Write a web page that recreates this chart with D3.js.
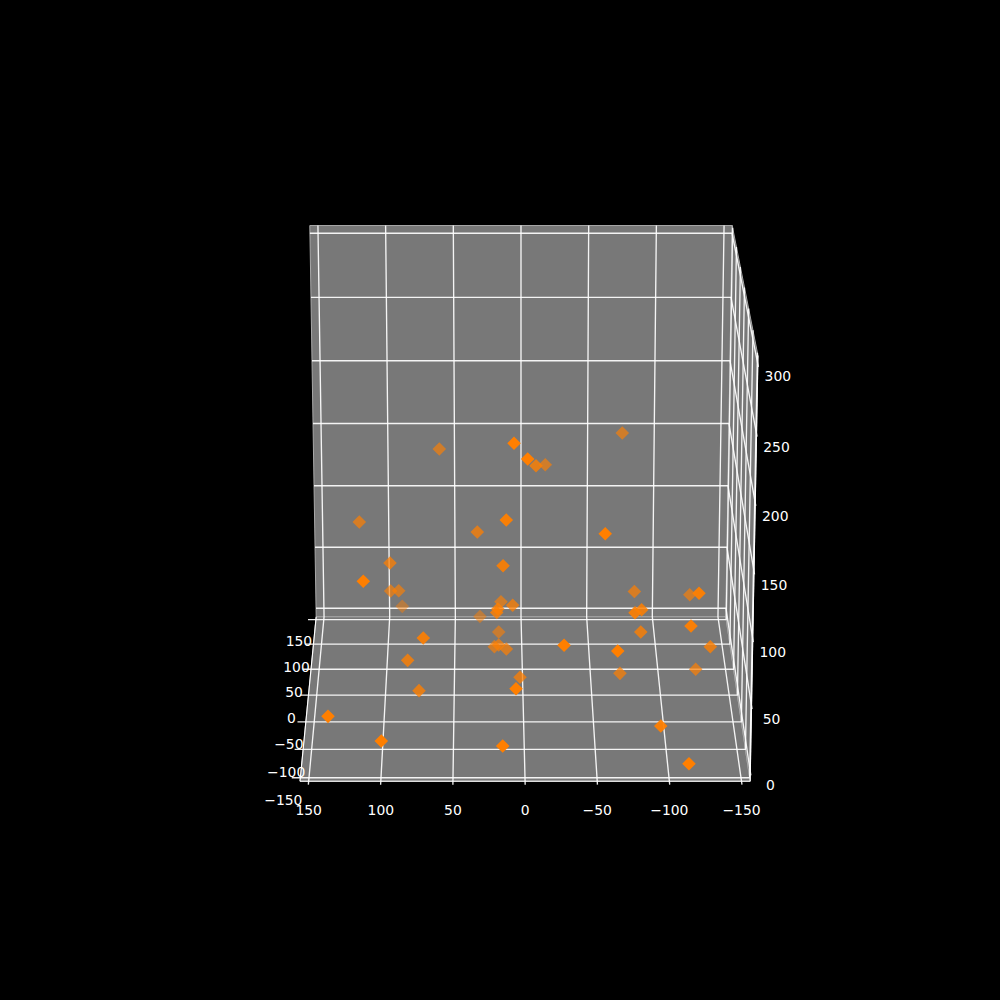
<!DOCTYPE html>
<html>
<head>
<meta charset="utf-8">
<script src="https://cdn.jsdelivr.net/npm/d3@7"></script>
<style>
  html, body { margin: 0; padding: 0; background: #000; }
  text { font-family: "DejaVu Sans", sans-serif; font-size: 13.9px; fill: #fff; }
</style>
</head>
<body>
<div id="chart"></div>
<script>
// tick values for the three axes
const xTicks = [150, 100, 50, 0, -50, -100, -150];
const yTicks = [-150, -100, -50, 0, 50, 100, 150];
const zTicks = [0, 50, 100, 150, 200, 250, 300];

// scatter values
const pointsX = [60.2, 7.2, -2.3, -9.1, -16.6, -72.3, 118.2, 32.8, 12.4, -56.1, 95.8, 14.6, 111.8, 96.5, 90.6, 89.8, 15.7, 7.4, 18.2, 19.0, 31.2, 17.3, 71.3, 83.3, 75.3, 137.7, 100.3, 15.3, 20.6, 17.5, 11.9, 2.1, 5.9, -27.6, -65.4, -71.1, -97.0, -114.0, -126.7, -134.8, -117.5, -84.6, -78.8, -84.3, -122.7, -122.8, -81.3];
const pointsY = [46, -110, -100, -17, 46, 46, 25, 4, -79, -100, 4, -58, -110, 46, 46, 129, 46, 4, -17, -17, 108, 67, -58, -17, -17, -110, -120, -120, 46, 25, 25, 4, -110, -110, -100, 20, -79, -145, 25, -17, -79, -17, -58, -37, 46, -79, 25];
const pointsZ = [168.2, 227.1, 212.1, 177.6, 156.0, 180.6, 119.1, 119.1, 159.1, 156.6, 95.1, 116.7, 124.9, 57.0, 57.2, 12.2, 48.5, 62.1, 67.5, 64.8, 12.2, 16.0, 61.3, 27.4, 3.6, 22.6, 8.0, 4.2, 12.7, 22.5, 19.3, 5.5, 43.7, 76.7, 68.3, 2.0, 2.0, 1.5, 3.2, 38.1, 78.9, 49.6, 80.8, 74.8, 54.0, 103.8, 64.7];

const xLim = [156, -156];
const yLim = [-156, 156];
const zLim = [-7, 306];
const tickLen = 6;

const width = 1000;
const height = 1000;

// perspective camera, fitted to the box corners
const xNum = d3.scaleLinear().domain([0, 100]).range([0, -144]);
const yNumX = d3.scaleLinear().domain([0, 100]).range([0, 15.16]);
const zNumX = d3.scaleLinear().domain([0, 100]).range([0, -5.5]);
const yNumY = d3.scaleLinear().domain([0, 100]).range([0, -33.1]);
const zNumY = d3.scaleLinear().domain([0, 100]).range([0, -139.47]);
const yW = d3.scaleLinear().domain([0, 100]).range([0, 0.0316]);
const zW = d3.scaleLinear().domain([0, 100]).range([0, -0.01055]);

function project(x, y, z) {
  const w = 1.04666 + yW(y) + zW(z);
  return [
    (xNum(x) + yNumX(y) + zNumX(z) + 547.35) / w,
    (yNumY(y) + zNumY(z) + 718.3) / w
  ];
}

const alphaScale = d3.scaleLinear().domain([-100, 150]).range([1, 0.4]).clamp(true);

const svg = d3.select("#chart").append("svg")
  .attr("width", width)
  .attr("height", height)
  .style("display", "block");

svg.append("rect").attr("width", width).attr("height", height).attr("fill", "#000");

const line = d3.line();

function corners(list) {
  return line(list.map(c => project(c[0], c[1], c[2]))) + "Z";
}

// panes: back wall, floor, right wall
const panes = [
  [[xLim[0], yLim[1], zLim[0]], [xLim[1], yLim[1], zLim[0]], [xLim[1], yLim[1], zLim[1]], [xLim[0], yLim[1], zLim[1]]],
  [[xLim[0], yLim[0], zLim[0]], [xLim[1], yLim[0], zLim[0]], [xLim[1], yLim[1], zLim[0]], [xLim[0], yLim[1], zLim[0]]],
  [[xLim[1], yLim[0], zLim[0]], [xLim[1], yLim[1], zLim[0]], [xLim[1], yLim[1], zLim[1]], [xLim[1], yLim[0], zLim[1]]]
];
svg.append("g").selectAll("path")
  .data(panes)
  .enter().append("path")
  .attr("d", corners)
  .attr("fill", "#787878")
  .attr("stroke", "#a8a8a8")
  .attr("stroke-width", 1);

// grid lines, each one a path over the panes it crosses
const gridPaths = [];
xTicks.forEach(t => gridPaths.push([[t, yLim[0] - tickLen, zLim[0]], [t, yLim[1], zLim[0]], [t, yLim[1], zLim[1]]]));
yTicks.forEach(t => gridPaths.push([[xLim[0] + tickLen, t, zLim[0]], [xLim[1], t, zLim[0]], [xLim[1], t, zLim[1]]]));
zTicks.forEach(t => gridPaths.push([[xLim[0], yLim[1], t], [xLim[1], yLim[1], t], [xLim[1], yLim[0] - tickLen, t]]));

svg.append("g").selectAll("path")
  .data(gridPaths)
  .enter().append("path")
  .attr("d", d => line(d.map(c => project(c[0], c[1], c[2]))))
  .attr("fill", "none")
  .attr("stroke", "#fff")
  .attr("stroke-opacity", 0.92)
  .attr("stroke-width", 1.35);

// axis lines
const axisLines = [
  [[xLim[0], yLim[0], zLim[0]], [xLim[1], yLim[0], zLim[0]]],
  [[xLim[0], yLim[0], zLim[0]], [xLim[0], yLim[1], zLim[0]]],
  [[xLim[1], yLim[0], zLim[0]], [xLim[1], yLim[0], zLim[1]]]
];
svg.append("g").selectAll("path")
  .data(axisLines)
  .enter().append("path")
  .attr("d", d => line(d.map(c => project(c[0], c[1], c[2]))))
  .attr("stroke", "#fff")
  .attr("stroke-width", 1.1);

// tick labels
const fmt = v => String(v).replace("-", "\u2212");

function labels(values, at, dx, dy) {
  svg.append("g").selectAll("text")
    .data(values)
    .enter().append("text")
    .attr("x", d => at(d)[0] + dx)
    .attr("y", d => at(d)[1] + (typeof dy === "function" ? dy(d) : dy))
    .attr("dy", "0.36em")
    .attr("text-anchor", "middle")
    .text(fmt);
}
labels(xTicks, t => project(t, yLim[0], zLim[0]), 0, 29);
labels(yTicks, t => project(xLim[0], t, zLim[0]), -17, t => t > 100 ? 21.5 : 22.5);
labels(zTicks, t => project(xLim[1], yLim[0], t), 20, t => t > 250 ? 12 : 13.5);

// points, far ones first
const points = pointsX.map((x, i) => ({ x: x, y: pointsY[i], z: pointsZ[i] }));
points.sort((a, b) => b.y - a.y);

svg.append("g").selectAll("path")
  .data(points)
  .enter().append("path")
  .attr("d", d3.symbol().type(d3.symbolSquare).size(92))
  .attr("transform", d => {
    const p = project(d.x, d.y, d.z);
    return "translate(" + p[0] + "," + p[1] + ") rotate(45)";
  })
  .attr("fill", "#ff7f00")
  .attr("fill-opacity", d => alphaScale(d.y));
</script>
</body>
</html>
